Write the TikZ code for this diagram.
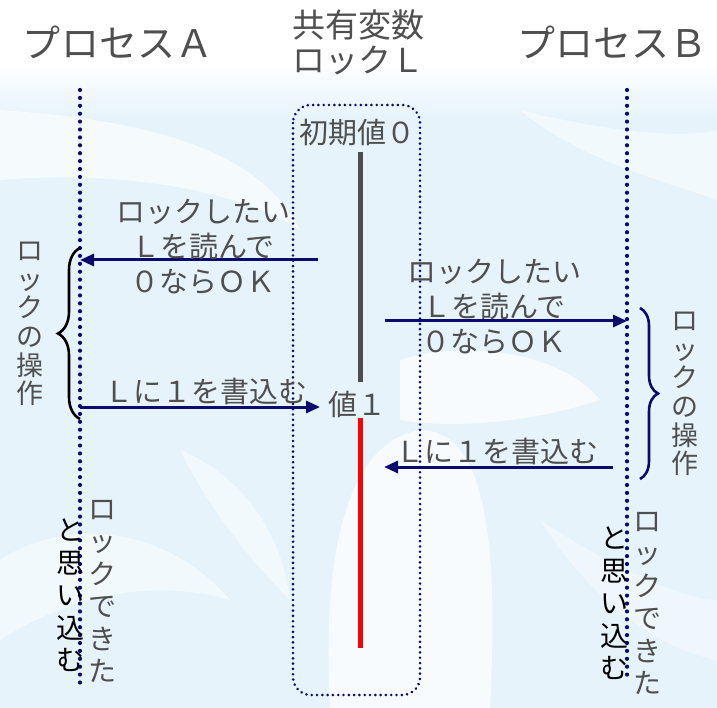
\documentclass[tikz,border=0pt]{standalone}
\usepackage{fontspec}
\setmainfont{Noto Sans CJK JP}
\usetikzlibrary{arrows.meta,decorations.pathreplacing,decorations.markings}
\definecolor{navy}{HTML}{0B0B6B}
\definecolor{txtgray}{HTML}{4F4F4F}
\definecolor{bargray}{HTML}{4D4D4D}
\definecolor{bgblue}{HTML}{E6F3FB}
\begin{document}
\begin{tikzpicture}[x=1pt,y=-1pt,
  title/.style={font=\fontsize{33}{35}\selectfont, text=txtgray, inner sep=0pt, align=center},
  ptitle/.style={font=\fontsize{38}{40}\selectfont, text=txtgray, inner sep=0pt},
  lbl/.style={font=\fontsize{29}{35}\selectfont, text=txtgray, inner sep=0pt, align=center},
  vlbl/.style={font=\fontsize{27}{28.7}\selectfont, text=txtgray, inner sep=0pt, align=center, text width=30pt},
  vlblb/.style={font=\fontsize{28}{32.5}\selectfont, inner sep=0pt, align=center, text width=30pt},
  life/.style={decoration={markings, mark=between positions 0 and 1 step 7.9pt with {\fill[navy] (0,0) circle (2.1pt);}}, decorate},
  boxdots/.style={decoration={markings, mark=between positions 0 and 1 step 5.3pt with {\fill[navy] (0,0) circle (1.45pt);}}, decorate},
  arr/.style={navy, line width=3pt, -{Triangle[length=14pt,width=12pt]}},
  bar/.style={line width=5pt},
  brace/.style={decorate, line width=2.6pt}
]
\useasboundingbox (0,0) rectangle (717,708);
% background
\fill[bgblue] (0,0) rectangle (717,708);
\shade[top color=white, bottom color=bgblue] (0,60) rectangle (717,120);
\fill[white] (0,0) rectangle (717,60);
\fill[white, opacity=0.6] (0,110) .. controls (150,120) and (260,150) .. (300,230) .. controls (240,190) and (120,170) .. (0,180) -- cycle;
\fill[white, opacity=0.7] (330,708) .. controls (320,520) and (360,440) .. (420,430) .. controls (480,430) and (500,520) .. (490,708) -- cycle;
\fill[white, opacity=0.7] (400,360) .. controls (460,340) and (560,350) .. (600,400) .. controls (540,420) and (460,430) .. (400,420) -- cycle;
\fill[white, opacity=0.5] (0,560) .. controls (60,520) and (160,520) .. (230,600) .. controls (160,580) and (80,590) .. (0,640) -- cycle;
\fill[white, opacity=0.5] (520,110) .. controls (600,130) and (680,140) .. (717,130) -- (717,200) .. controls (660,180) and (580,160) .. (520,110) -- cycle;
\fill[white, opacity=0.5] (180,450) .. controls (230,470) and (280,520) .. (290,600) .. controls (250,560) and (210,510) .. (180,450) -- cycle;
\fill[white, opacity=0.4] (540,520) .. controls (600,560) and (680,600) .. (717,600) -- (717,660) .. controls (660,650) and (590,600) .. (540,520) -- cycle;

% titles
\node[ptitle] (pa) at (118,42) {プロセスＡ};
\node[title] (lk) at (358,42) {共有変数\\ロックＬ};
\node[ptitle] (pb) at (612,42) {プロセスＢ};

% lifelines
\coordinate (a0) at (80,90);
\coordinate (a1) at (80,690);
\coordinate (b0) at (627,90);
\coordinate (b1) at (627,682);
\path[life] (a0) -- (a1);
\path[life] (b0) -- (b1);

% shared variable box
\coordinate (boxNW) at (293,105);
\coordinate (boxSE) at (420,695);
\path[boxdots, rounded corners=18pt] (boxNW) rectangle (boxSE);
\node[lbl] (init) at (357,133) {初期値０};
\node[lbl] (val1) at (357,404) {値１};
\coordinate (g0) at (360,152);
\coordinate (g1) at (360,382);
\coordinate (r0) at (360,418);
\coordinate (r1) at (360,648);
\draw[bar, bargray] (g0) -- (g1);
\draw[bar, red] (r0) -- (r1);

% messages
\coordinate (m1s) at (318,260);
\coordinate (m1e) at (80,260);
\draw[arr] (m1s) -- (m1e);
\node[lbl] (l1) at (203,247) {ロックしたい\\Ｌを読んで\\０ならＯＫ};

\coordinate (m2s) at (385,321);
\coordinate (m2e) at (627,321);
\draw[arr] (m2s) -- (m2e);
\node[lbl] (l2) at (494,307) {ロックしたい\\Ｌを読んで\\０ならＯＫ};

\coordinate (m3s) at (80,407);
\coordinate (m3e) at (320,407);
\draw[arr] (m3s) -- (m3e);
\node[lbl] (l3) at (206,391) {Ｌに１を書込む};

\coordinate (m4s) at (613,467);
\coordinate (m4e) at (384,467);
\draw[arr] (m4s) -- (m4e);
\node[lbl] (l4) at (497,451) {Ｌに１を書込む};

% braces
\coordinate (ba0) at (80,419);
\coordinate (ba1) at (80,248);
\draw[brace, black, decoration={brace, amplitude=22pt}] (ba0) -- (ba1);
\coordinate (bb0) at (640,308);
\coordinate (bb1) at (640,479);
\draw[brace, navy, decoration={brace, amplitude=18pt}] (bb0) -- (bb1);

\node[vlbl] (opA) at (30,324) {ロ\\ッ\\ク\\の\\操\\作};
\node[vlbl] (opB) at (685,394) {ロ\\ッ\\ク\\の\\操\\作};

% bottom notes
\node[vlblb, text=txtgray, anchor=north] (okA) at (102,500) {ロ\\ッ\\ク\\で\\き\\た};
\node[vlblb, anchor=north] (thA) at (70,519) {と\\思\\い\\込\\む};
\node[vlblb, text=txtgray, anchor=north] (okB) at (647,512) {ロ\\ッ\\ク\\で\\き\\た};
\node[vlblb, anchor=north] (thB) at (614,527) {と\\思\\い\\込\\む};
\end{tikzpicture}
\end{document}
